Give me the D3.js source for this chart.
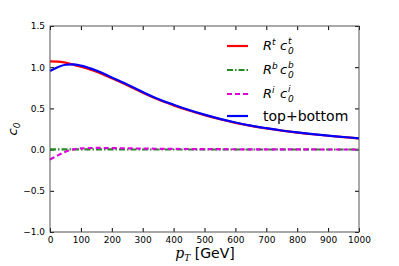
<!DOCTYPE html>
<html>
<head>
<meta charset="utf-8">
<script src="https://cdn.jsdelivr.net/npm/d3@7"></script>
<style>
  body { margin: 0; background: #fff; }
  svg text { font-family: "DejaVu Sans", sans-serif; }
</style>
</head>
<body>
<div id="chart"></div>
<script>
// pT grid and the curves
const pt = [0, 25, 50, 75, 100, 150, 200, 250, 300, 350, 400, 450, 500, 550, 600, 650, 700, 750, 800, 850, 900, 950, 1000];
const topC = [1.07, 1.068, 1.055, 1.032, 1.005, 0.945, 0.865, 0.78, 0.69, 0.607, 0.537, 0.474, 0.418, 0.368, 0.325, 0.288, 0.257, 0.23, 0.206, 0.186, 0.168, 0.152, 0.137];
const bottomC = [0.002, 0.002, 0.002, 0.002, 0.002, 0.002, 0.002, 0.001, 0.001, 0.001, 0.001, 0.001, 0.001, 0.001, 0.001, 0.001, 0.001, 0.001, 0.001, 0.001, 0.001, 0.001, 0.001];
const interfC = [-0.12, -0.07, -0.025, 0.003, 0.014, 0.02, 0.018, 0.015, 0.012, 0.01, 0.008, 0.007, 0.006, 0.005, 0.004, 0.003, 0.003, 0.002, 0.002, 0.002, 0.001, 0.001, 0.001];
const totalC = [0.955, 1.0, 1.03, 1.035, 1.02, 0.96, 0.875, 0.79, 0.7, 0.615, 0.545, 0.481, 0.424, 0.373, 0.329, 0.291, 0.26, 0.232, 0.208, 0.187, 0.169, 0.153, 0.137];

const xTicks = [0, 100, 200, 300, 400, 500, 600, 700, 800, 900, 1000];
const yTicks = [-1.0, -0.5, 0.0, 0.5, 1.0, 1.5];

const width = 399, height = 266;
const margin = { left: 50, right: 40, top: 26, bottom: 34 };

const svg = d3.select("#chart").append("svg")
  .attr("width", width)
  .attr("height", height);

const x = d3.scaleLinear().domain([0, 1000]).range([margin.left, width - margin.right]);
const y = d3.scaleLinear().domain([-1, 1.5]).range([height - margin.bottom, margin.top]);

// axes with inward ticks on all four sides
const fmtY = d => d3.format(".1f")(d).replace("-", "\u2212");
svg.append("g")
  .attr("transform", `translate(0,${y(-1)})`)
  .call(d3.axisBottom(x).tickValues(xTicks).tickFormat(d3.format("d")).tickSizeInner(-4).tickSizeOuter(0).tickPadding(5))
  .call(g => g.select(".domain").remove());
svg.append("g")
  .attr("transform", `translate(0,${y(1.5)})`)
  .call(d3.axisTop(x).tickValues(xTicks).tickSizeInner(-4).tickSizeOuter(0).tickFormat(""))
  .call(g => g.select(".domain").remove());
svg.append("g")
  .attr("transform", `translate(${x(0)},0)`)
  .call(d3.axisLeft(y).tickValues(yTicks).tickFormat(fmtY).tickSizeInner(-4).tickSizeOuter(0).tickPadding(5))
  .call(g => g.select(".domain").remove());
svg.append("g")
  .attr("transform", `translate(${x(1000)},0)`)
  .call(d3.axisRight(y).tickValues(yTicks).tickSizeInner(-4).tickSizeOuter(0).tickFormat(""))
  .call(g => g.select(".domain").remove());

svg.selectAll(".tick text").attr("font-size", 9).attr("fill", "#000");
svg.selectAll(".tick line").attr("stroke", "#000");

// curves
const series = [
  { vals: topC, color: "#ff0000", dash: null },
  { vals: bottomC, color: "#228b22", dash: "6,2,1.5,2" },
  { vals: interfC, color: "#dd00dd", dash: "5,3" },
  { vals: totalC, color: "#0000ff", dash: null }
];
const line = d3.line().curve(d3.curveMonotoneX);
series.forEach(s => {
  svg.append("path")
    .attr("d", line(pt.map((p, i) => [x(p), y(s.vals[i])])))
    .attr("fill", "none")
    .attr("stroke", s.color)
    .attr("stroke-width", 2.2)
    .attr("stroke-dasharray", s.dash);
});

// frame
svg.append("rect")
  .attr("x", x(0)).attr("y", y(1.5))
  .attr("width", x(1000) - x(0)).attr("height", y(-1) - y(1.5))
  .attr("fill", "none").attr("stroke", "#555").attr("stroke-width", 1);

// legend
const legendY = [46, 70, 94, 116];
const legend = svg.append("g");
series.forEach((s, i) => {
  legend.append("line")
    .attr("x1", 227).attr("x2", 248)
    .attr("y1", legendY[i]).attr("y2", legendY[i])
    .attr("stroke", s.color).attr("stroke-width", 2.2)
    .attr("stroke-dasharray", s.dash);
});
const serif = "DejaVu Serif, serif";
const mathLabel = (yy, sup) => {
  const base = yy + 4;
  const it = (tx, ty, txt, fs) => legend.append("text")
    .attr("x", tx).attr("y", ty).attr("font-family", serif).attr("font-style", "italic")
    .attr("font-size", fs).text(txt);
  it(263, base, "R", 13);
  it(272, base - 5, sup, 9);
  it(280, base, "c", 13);
  it(288, base - 6, sup, 9);
  it(288, base + 4, "0", 9);
};
mathLabel(legendY[0], "t");
mathLabel(legendY[1], "b");
mathLabel(legendY[2], "i");
legend.append("text").attr("x", 263).attr("y", legendY[3] + 5)
  .attr("font-size", 14).text("top+bottom");

// axis labels
const xl = svg.append("text")
  .attr("x", 205).attr("y", 258)
  .attr("text-anchor", "middle").attr("font-size", 14);
xl.append("tspan").attr("font-family", serif).attr("font-style", "italic").text("p");
xl.append("tspan").attr("font-family", serif).attr("font-style", "italic")
  .attr("font-size", 9).attr("dy", 3).text("T");
xl.append("tspan").attr("dy", -3).text(" [GeV]");

const yl = svg.append("text")
  .attr("transform", `translate(17,${y(0.25)}) rotate(-90)`)
  .attr("text-anchor", "middle")
  .attr("font-family", serif).attr("font-style", "italic").attr("font-size", 13);
yl.append("tspan").text("c");
yl.append("tspan").attr("font-size", 9).attr("dy", 3).text("0");
</script>
</body>
</html>
